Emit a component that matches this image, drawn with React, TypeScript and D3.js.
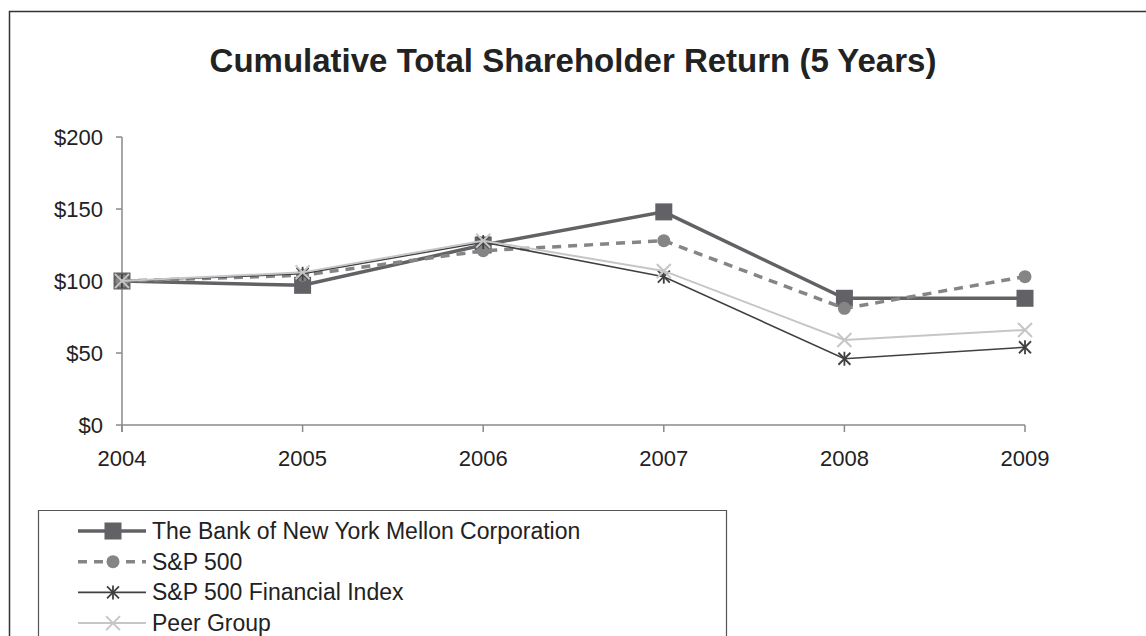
import React from "react";
import * as d3 from "d3";

const years = ["2004", "2005", "2006", "2007", "2008", "2009"];
const bnyValues = [100, 97, 125, 148, 88, 88];
const sp500Values = [100, 104, 121, 128, 81, 103];
const finValues = [100, 105, 127, 103, 46, 54];
const peerValues = [100, 106, 128, 107, 59, 66];
const yTicks = [0, 50, 100, 150, 200];
const title = "Cumulative Total Shareholder Return (5 Years)";

const seriesNames = [
  "The Bank of New York Mellon Corporation",
  "S&P 500",
  "S&P 500 Financial Index",
  "Peer Group",
];

type Marker = "square" | "circle" | "asterisk" | "x";
interface Series {
  name: string;
  values: number[];
  color: string;
  width: number;
  dash?: string;
  marker: Marker;
  markerColor: string;
}

const series: Series[] = [
  { name: seriesNames[0], values: bnyValues, color: "#626266", width: 3.5, marker: "square", markerColor: "#626266" },
  { name: seriesNames[1], values: sp500Values, color: "#858585", width: 3.5, dash: "9,7", marker: "circle", markerColor: "#858585" },
  { name: seriesNames[2], values: finValues, color: "#404040", width: 1.6, marker: "asterisk", markerColor: "#404040" },
  { name: seriesNames[3], values: peerValues, color: "#c6c6c6", width: 2, marker: "x", markerColor: "#c6c6c6" },
];

function MarkerShape({ type, x, y, color }: { type: Marker; x: number; y: number; color: string }) {
  if (type === "square") return <rect x={x - 8.5} y={y - 8.5} width={17} height={17} fill={color} />;
  if (type === "circle") return <circle cx={x} cy={y} r={6.5} fill={color} />;
  if (type === "x") {
    const s = 7;
    return (
      <g stroke={color} strokeWidth={2}>
        <line x1={x - s} y1={y - s} x2={x + s} y2={y + s} />
        <line x1={x - s} y1={y + s} x2={x + s} y2={y - s} />
      </g>
    );
  }
  const s = 6;
  return (
    <g stroke={color} strokeWidth={1.8}>
      <line x1={x - s} y1={y - s} x2={x + s} y2={y + s} />
      <line x1={x - s} y1={y + s} x2={x + s} y2={y - s} />
      <line x1={x} y1={y - s - 1} x2={x} y2={y + s + 1} />
    </g>
  );
}

export default function App() {
  const W = 1146;
  const H = 636;
  const x = d3.scalePoint<string>().domain(years).range([122, 1025]);
  const y = d3.scaleLinear().domain([0, 200]).range([425, 137]);
  const line = d3
    .line<number>()
    .x((_, i) => x(years[i]) as number)
    .y((d) => y(d));

  const font = "Arial, 'Liberation Sans', sans-serif";
  const axisColor = "#8a8a8a";

  return (
    <svg
      width={W}
      height={H}
      style={{ position: "absolute", left: 0, top: 0, background: "#fff" }}
      fontFamily={font}
    >
      <rect x={0} y={0} width={W} height={H} fill="#fff" />
      <path d={`M9.5,${H} L9.5,11.5 L${W},11.5`} fill="none" stroke="#333" strokeWidth={1.5} />
      <text x={573} y={72} textAnchor="middle" fontSize={33} fontWeight="bold" fill="#222">
        {title}
      </text>

      {/* y axis */}
      <line x1={122} y1={y(200)} x2={122} y2={432} stroke={axisColor} strokeWidth={1.5} />
      {yTicks.map((t) => (
        <g key={t}>
          <line x1={116} x2={122} y1={y(t)} y2={y(t)} stroke={axisColor} strokeWidth={1.5} />
          <text x={103} y={y(t)} dy="0.35em" textAnchor="end" fontSize={22} fill="#222">
            ${t}
          </text>
        </g>
      ))}
      {/* x axis */}
      <line x1={122} x2={1025} y1={y(0)} y2={y(0)} stroke={axisColor} strokeWidth={1.5} />
      {years.map((yr) => (
        <g key={yr}>
          <line x1={x(yr)} x2={x(yr)} y1={y(0)} y2={432} stroke={axisColor} strokeWidth={1.5} />
          <text x={x(yr)} y={466} textAnchor="middle" fontSize={22} fill="#222">
            {yr}
          </text>
        </g>
      ))}

      {series.map((s) => (
        <g key={s.name}>
          <path
            d={line(s.values) || ""}
            fill="none"
            stroke={s.color}
            strokeWidth={s.width}
            strokeDasharray={s.dash}
          />
          {s.values.map((v, i) => (
            <MarkerShape key={i} type={s.marker} x={x(years[i]) as number} y={y(v)} color={s.markerColor} />
          ))}
        </g>
      ))}

      {/* legend */}
      <path d={`M38.5,${H} L38.5,510.5 L726.5,510.5 L726.5,${H}`} fill="none" stroke="#555" strokeWidth={1.2} />
      {series.map((s, row) => {
        const ly = 531 + row * 30.7;
        return (
          <g key={s.name}>
            <line x1={78} x2={146} y1={ly} y2={ly} stroke={s.color} strokeWidth={s.width} strokeDasharray={s.dash} />
            <MarkerShape type={s.marker} x={113} y={ly} color={s.markerColor} />
            <text x={152} y={ly} dy="0.35em" fontSize={23} fill="#222">
              {s.name}
            </text>
          </g>
        );
      })}
    </svg>
  );
}
